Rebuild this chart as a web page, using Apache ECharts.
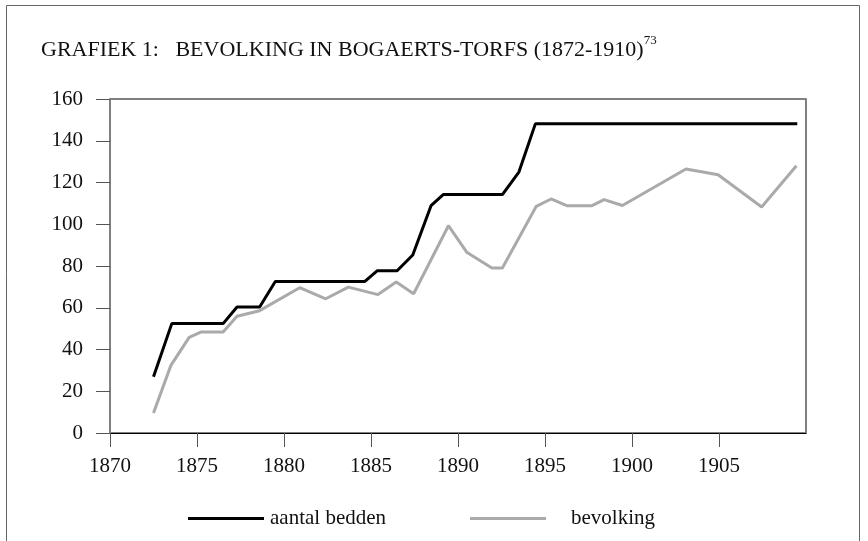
<!DOCTYPE html>
<html>
<head>
<meta charset="utf-8">
<script src="https://cdn.jsdelivr.net/npm/echarts@6/dist/echarts.min.js"></script>
<style>
  html, body { margin: 0; padding: 0; background: #fff; }
  #chart { width: 868px; height: 541px; }
</style>
</head>
<body>
<div id="chart"></div>
<script>
// jaartallen (x) en waarden (y)
const beddenJaren = [1872.5, 1873.55, 1876.5, 1877.3, 1878.6, 1879.5, 1884.65, 1885.35, 1886.5, 1887.4, 1888.45, 1889.15, 1892.55, 1893.5, 1894.45, 1909.5];
const beddenWaarden = [27, 52.4, 52.4, 60.4, 60.4, 72.6, 72.6, 77.7, 77.7, 85.3, 108.9, 114.2, 114.2, 125, 148.2, 148.2];

const bevolkingJaren = [1872.5, 1873.5, 1874.55, 1875.25, 1876.5, 1877.3, 1878.6, 1880.9, 1882.4, 1883.7, 1885.4, 1886.45, 1887.45, 1889.45, 1890.5, 1891.95, 1892.55, 1894.5, 1895.35, 1896.25, 1897.7, 1898.4, 1899.45, 1903.1, 1904.95, 1907.45, 1909.45];
const bevolkingWaarden = [9.6, 32.4, 45.8, 48.4, 48.4, 55.9, 58.6, 69.6, 64.3, 69.9, 66.3, 72.3, 66.7, 99.3, 86.6, 79, 79, 108.6, 112.1, 108.9, 108.9, 111.8, 109, 126.5, 123.7, 108.3, 128];

const serieNamen = ['aantal bedden', 'bevolking'];
const xTicks = [1870, 1875, 1880, 1885, 1890, 1895, 1900, 1905];

const font = '"Liberation Serif", "DejaVu Serif", serif';
const chart = echarts.init(document.getElementById('chart'));

const pairs = (xs, ys) => xs.map((x, i) => [x, ys[i]]);

chart.setOption({
    animation: false,
    backgroundColor: '#fff',
    textStyle: { fontFamily: font, color: '#111' },
    title: {
        text: '{a|GRAFIEK 1:   BEVOLKING IN BOGAERTS-TORFS (1872-1910)}{s|73}',
        left: 36,
        top: 29,
        textStyle: {
            fontWeight: 'normal',
            rich: {
                a: { fontFamily: font, fontSize: 22, fontWeight: 'normal', color: '#111', lineHeight: 27, verticalAlign: 'bottom' },
                s: { fontFamily: font, fontSize: 13, fontWeight: 'normal', color: '#111', lineHeight: 27, verticalAlign: 'top' }
            }
        }
    },
    graphic: [{
        type: 'rect',
        shape: { x: 6.5, y: 5.5, width: 853, height: 600 },
        style: { fill: 'none', stroke: '#666', lineWidth: 1 },
        silent: true,
        z: -1
    }],
    grid: {
        left: 110, top: 99, right: 62, bottom: 108,
        show: true, borderColor: '#000', borderWidth: 1, backgroundColor: 'transparent'
    },
    legend: {
        data: [
            { name: serieNamen[0] },
            { name: serieNamen[1], textStyle: { padding: [0, 0, 0, 20] } }
        ],
        left: 183,
        top: 503,
        icon: 'rect',
        itemWidth: 76,
        itemHeight: 3,
        itemGap: 84,
        textStyle: { fontFamily: font, fontSize: 21, color: '#111', padding: [0, 0, 0, 1] }
    },
    xAxis: {
        type: 'value',
        min: 1870,
        max: 1910,
        interval: 5,
        axisLine: { show: true, onZero: false, lineStyle: { color: '#000', width: 1 } },
        axisTick: { show: true, length: 14, lineStyle: { color: '#555', width: 1 } },
        axisLabel: {
            fontFamily: font, fontSize: 21, color: '#111', margin: 23,
            showMaxLabel: false,
            formatter: v => (xTicks.indexOf(v) >= 0 ? String(v) : '')
        },
        splitLine: { show: false }
    },
    yAxis: [{
        type: 'value',
        min: 0,
        max: 160,
        interval: 20,
        axisLine: { show: true, lineStyle: { color: '#808080', width: 2 } },
        axisTick: { show: true, length: 14, lineStyle: { color: '#555', width: 1 } },
        axisLabel: { fontFamily: font, fontSize: 21, color: '#111', margin: 27 },
        splitLine: { show: false }
    }, {
        type: 'value',
        position: 'right',
        min: 0,
        max: 160,
        interval: 20,
        axisLine: { show: true, lineStyle: { color: '#808080', width: 2 } },
        axisTick: { show: false },
        axisLabel: { show: false },
        splitLine: { show: false }
    }],
    series: [{
        name: serieNamen[0],
        type: 'line',
        data: pairs(beddenJaren, beddenWaarden),
        showSymbol: false,
        color: '#000',
        lineStyle: { color: '#000', width: 3 },
        z: 3
    }, {
        name: serieNamen[1],
        type: 'line',
        data: pairs(bevolkingJaren, bevolkingWaarden),
        showSymbol: false,
        color: '#aaaaaa',
        lineStyle: { color: '#aaaaaa', width: 3 },
        z: 2
    }]
});
</script>
</body>
</html>
